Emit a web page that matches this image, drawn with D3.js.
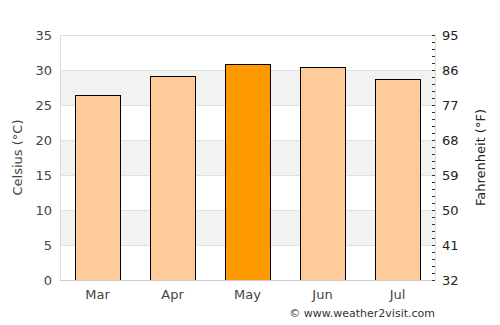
<!DOCTYPE html>
<html>
<head>
<meta charset="utf-8">
<script src="https://cdn.jsdelivr.net/npm/d3@7"></script>
<style>
  body { margin: 0; background: #fff; }
  text { font-family: "DejaVu Sans", sans-serif; }
</style>
</head>
<body>
<svg id="chart" width="500" height="325"></svg>
<script>
const months = ["Mar", "Apr", "May", "Jun", "Jul"];
const celsius = [26.5, 29.1, 30.9, 30.5, 28.7];
const highlight = ["May"];
const cTicks = [0, 5, 10, 15, 20, 25, 30, 35];
const fTicks = [32, 41, 50, 59, 68, 77, 86, 95];

let margin = {"left": 60, "top": 35, "bottom": 45, "right": 65};
let width = 500, height = 325;
let svg = d3.select("#chart");

let x = d3.scaleBand()
  .domain(months)
  .range([margin.left, width - margin.right])
  .paddingInner(0.4)
  .paddingOuter(0.2);

let y = d3.scaleLinear()
  .domain([0, 35])
  .range([height - margin.bottom, margin.top]);

let yF = d3.scaleLinear()
  .domain([32, 95])
  .range(y.range());

// alternating bands
let bands = svg.append("g");
bands.selectAll("rect")
  .data([5, 15, 25])
  .join("rect")
  .attr("x", margin.left)
  .attr("width", width - margin.right - margin.left)
  .attr("y", d => y(d + 5))
  .attr("height", d => y(d) - y(d + 5))
  .attr("fill", "#f2f2f2");

// gridlines
svg.append("g")
  .selectAll("line")
  .data(cTicks)
  .join("line")
  .attr("x1", margin.left)
  .attr("x2", width - margin.right)
  .attr("y1", d => Math.round(y(d)) + 0.5)
  .attr("y2", d => Math.round(y(d)) + 0.5)
  .attr("stroke", "#e0e0e0");

// plot borders
svg.append("line")
  .attr("x1", margin.left + 0.5).attr("x2", margin.left + 0.5)
  .attr("y1", margin.top).attr("y2", height - margin.bottom)
  .attr("stroke", "#dddddd");
svg.append("line")
  .attr("x1", width - margin.right + 0.5).attr("x2", width - margin.right + 0.5)
  .attr("y1", margin.top).attr("y2", height - margin.bottom)
  .attr("stroke", "#dddddd");

// bars
svg.append("g")
  .selectAll("rect")
  .data(months)
  .join("rect")
  .attr("x", d => Math.round(x(d)) + 0.5)
  .attr("width", Math.round(x.bandwidth()))
  .attr("y", (d, i) => Math.round(y(celsius[i])) + 0.5)
  .attr("height", (d, i) => Math.round(y(0)) - Math.round(y(celsius[i])))
  .attr("fill", d => highlight.includes(d) ? "#ff9900" : "#ffcc99")
  .attr("stroke", "#000")
  .attr("stroke-width", 1);

// bottom axis line
svg.append("line")
  .attr("x1", margin.left).attr("x2", width - margin.right)
  .attr("y1", Math.round(y(0)) + 0.5).attr("y2", Math.round(y(0)) + 0.5)
  .attr("stroke", "#cccccc");

// left labels
svg.append("g")
  .selectAll("text")
  .data(cTicks)
  .join("text")
  .attr("x", margin.left - 8)
  .attr("y", d => y(d))
  .attr("dy", "0.35em")
  .attr("text-anchor", "end")
  .attr("font-size", 13)
  .attr("fill", "#444")
  .text(d => d);

// right minor ticks, five per labelled step
let rx = width - margin.right;
svg.append("g")
  .selectAll("line")
  .data(d3.range(32, 95.01, 1.8))
  .join("line")
  .attr("x1", rx - 3)
  .attr("x2", rx)
  .attr("y1", d => Math.round(yF(d)) + 0.5)
  .attr("y2", d => Math.round(yF(d)) + 0.5)
  .attr("stroke", "#333");

svg.append("g")
  .selectAll("text")
  .data(fTicks)
  .join("text")
  .attr("x", rx + 7)
  .attr("y", d => yF(d))
  .attr("dy", "0.35em")
  .attr("font-size", 13)
  .attr("fill", "#222")
  .text(d => d);

// x labels
svg.append("g")
  .selectAll("text")
  .data(months)
  .join("text")
  .attr("x", d => x(d) + x.bandwidth() / 2)
  .attr("y", height - margin.bottom + 19)
  .attr("text-anchor", "middle")
  .attr("font-size", 13)
  .attr("fill", "#444")
  .text(d => d);

// axis titles
svg.append("text")
  .attr("transform", `translate(22, ${(margin.top + height - margin.bottom) / 2}) rotate(-90)`)
  .attr("text-anchor", "middle")
  .attr("font-size", 13)
  .attr("fill", "#444")
  .text("Celsius (°C)");

svg.append("text")
  .attr("transform", `translate(485, ${(margin.top + height - margin.bottom) / 2}) rotate(-90)`)
  .attr("text-anchor", "middle")
  .attr("font-size", 13)
  .attr("fill", "#222")
  .text("Fahrenheit (°F)");

svg.append("text")
  .attr("x", width - margin.right)
  .attr("y", height - 8)
  .attr("text-anchor", "end")
  .attr("font-size", 11)
  .attr("fill", "#333")
  .text("© www.weather2visit.com");
</script>
</body>
</html>
